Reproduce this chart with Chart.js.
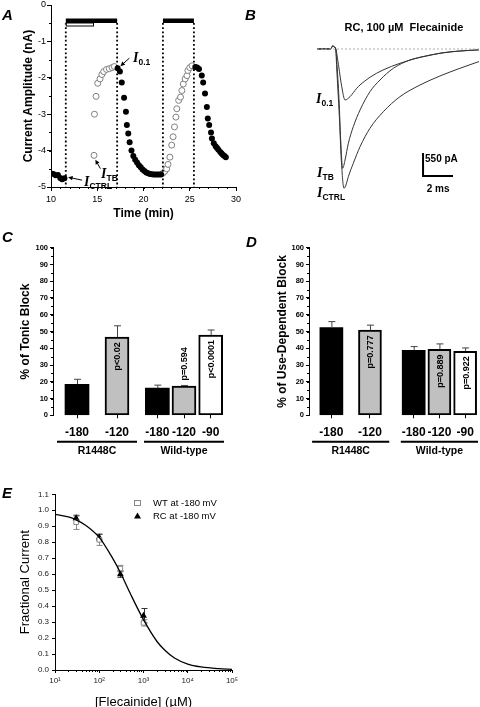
<!DOCTYPE html>
<html>
<head>
<meta charset="utf-8">
<title>Flecainide block of R1448C</title>
<script src="https://cdn.jsdelivr.net/npm/chart.js@4.4.1/dist/chart.umd.min.js"></script>
<style>
  body { margin: 0; background: #fff; }
  #fig { position: relative; width: 480px; height: 707px; overflow: hidden; font-family: "Liberation Sans", Arial, sans-serif; color: #000; }
  #fig canvas { position: absolute; }
  .t { position: absolute; white-space: nowrap; line-height: 1; }
  .panel { font-size: 15px; font-weight: bold; font-style: italic; }
  .cur { font: italic bold 14px "Liberation Serif", "Times New Roman", serif; }
  .cur sub { font: bold 8.5px "Liberation Sans", Arial, sans-serif; vertical-align: -3px; line-height: 1; }
  .ttl { font-size: 11px; font-weight: bold; transform: translateX(-50%); }
</style>
</head>
<body>
<div id="fig">
  <canvas id="chartA" width="250" height="225" style="left:0;top:0"></canvas>
  <canvas id="chartB" width="180" height="200" style="left:300px;top:0"></canvas>
  <canvas id="chartC" width="240" height="235" style="left:0;top:225px"></canvas>
  <canvas id="chartD" width="240" height="235" style="left:240px;top:225px"></canvas>
  <canvas id="chartE" width="260" height="240" style="left:0;top:470px"></canvas>

  <div class="t panel" style="left:2px;top:7px">A</div>
  <div class="t panel" style="left:245px;top:7px">B</div>
  <div class="t panel" style="left:2px;top:229px">C</div>
  <div class="t panel" style="left:246px;top:234px">D</div>
  <div class="t panel" style="left:2px;top:485px">E</div>

  <div class="t cur" style="left:133px;top:50px">I<sub>0.1</sub></div>
  <div class="t cur" style="left:101px;top:166px">I<sub>TB</sub></div>
  <div class="t cur" style="left:84px;top:174px">I<sub>CTRL</sub></div>

  <div class="t ttl" style="left:404px;top:22px">RC, 100 µM&nbsp; Flecainide</div>
  <div class="t cur" style="left:316px;top:91px">I<sub>0.1</sub></div>
  <div class="t cur" style="left:317px;top:165px">I<sub>TB</sub></div>
  <div class="t cur" style="left:317px;top:185px">I<sub>CTRL</sub></div>
</div>

<script>
// panel A: peak current during the protocol
const closedTime = [10.0, 10.25, 10.5, 10.75, 11.0, 11.2, 11.45,
  17.2, 17.45, 17.65, 17.9, 18.1, 18.2, 18.35, 18.5, 18.7, 18.9, 19.1, 19.3, 19.5, 19.7, 19.9,
  20.1, 20.3, 20.5, 20.7, 20.9, 21.1, 21.3, 21.5, 21.7, 21.9,
  25.6, 25.8, 26.0, 26.3, 26.45, 26.65, 26.85, 26.95, 27.1, 27.3, 27.4, 27.6, 27.8, 27.95,
  28.1, 28.3, 28.45, 28.6, 28.75, 28.9];
const closedAmp = [-4.63, -4.64, -4.68, -4.67, -4.75, -4.79, -4.76,
  -1.74, -1.83, -2.13, -2.55, -2.93, -3.3, -3.53, -3.77, -4.0, -4.15, -4.25, -4.33, -4.4, -4.46, -4.52,
  -4.56, -4.6, -4.62, -4.64, -4.65, -4.66, -4.66, -4.66, -4.66, -4.66,
  -1.7, -1.72, -1.76, -1.94, -2.13, -2.43, -2.8, -3.12, -3.3, -3.5, -3.67, -3.8, -3.88, -3.93,
  -3.98, -4.04, -4.08, -4.12, -4.15, -4.18];
const openTime = [14.65, 14.7, 14.87, 15.05, 15.3, 15.5, 15.7, 16.0, 16.3, 16.6, 16.85,
  22.1, 22.3, 22.5, 22.65, 22.85, 23.05, 23.2, 23.35, 23.5, 23.6, 23.8, 24.0, 24.15, 24.3,
  24.5, 24.7, 24.8, 25.0, 25.25];
const openAmp = [-4.13, -3.0, -2.51, -2.15, -2.03, -1.91, -1.83, -1.77, -1.75, -1.72, -1.69,
  -4.62, -4.57, -4.5, -4.38, -4.18, -3.85, -3.62, -3.35, -3.08, -2.85, -2.62, -2.53, -2.35, -2.17,
  -2.03, -1.94, -1.8, -1.72, -1.67];
const drugStart = [11.6, 22.1];
const drugEnd = [17.15, 25.45];
const restStart = [11.6];
const restEnd = [14.65];

// panel B: current traces (ms, pA)
const tTrace01 = [0, 0.5, 0.9, 1.05, 1.15, 1.27, 1.45, 1.65, 1.87, 2.2, 2.65, 2.87, 3.53, 4.4, 5.53, 6.87, 8.2, 9.53, 10.8];
const iTrace01 = [0, 5, 0, 72, 50, -24, -423, -901, -1219, -1140, -939, -860, -676, -502, -342, -198, -103, -48, -20];
const tTraceTB = [0, 0.5, 0.9, 1.05, 1.15, 1.25, 1.31, 1.47, 1.58, 1.71, 1.87, 2.09, 2.42, 2.87, 3.53, 4.2, 5.09, 6.2, 7.31, 8.42, 9.53, 10.8];
const iTraceTB = [0, 5, 0, 72, 50, 0, -263, -1219, -2175, -2851, -2653, -2254, -1857, -1458, -1021, -741, -461, -263, -167, -88, -48, -20];
const tTraceCtrl = [0, 0.5, 0.9, 1.05, 1.15, 1.25, 1.31, 1.49, 1.62, 1.8, 1.93, 2.09, 2.42, 2.87, 3.53, 4.42, 5.53, 6.87, 8.2, 9.53, 10.8];
const iTraceCtrl = [0, 5, 0, 72, 50, 0, -423, -1618, -2653, -3329, -3250, -3052, -2732, -2335, -1895, -1499, -1140, -860, -645, -461, -300];
const scaleMs = 2;
const scalePa = 550;

// panels C and D
const voltages = ['-180', '-120', '-180', '-120', '-90'];
const constructs = ['R1448C', 'R1448C', 'Wild-type', 'Wild-type', 'Wild-type'];
const tonicBlock = [18.5, 46.6, 16.2, 17.4, 47.9];
const tonicErr = [3.0, 6.8, 1.8, 0.4, 3.0];
const tonicP = ['', 'p<0.02', '', 'p=0.594', 'p<0.0001'];
const useBlock = [52.3, 50.8, 38.8, 39.3, 38.2];
const useErr = [3.6, 3.0, 2.2, 3.3, 2.0];
const useP = ['', 'p=0.777', '', 'p=0.889', 'p=0.922'];

// panel E
const flecConc = [30, 100, 300, 1000];
const wtFrac = [0.925, 0.815, 0.635, 0.295];
const wtErr = [0.045, 0.035, 0.02, 0.02];
const rcFrac = [0.95, 0.83, 0.60, 0.34];
const rcErr = [0.015, 0.02, 0.02, 0.045];
const fitConc = [10, 20, 30, 50, 100, 200, 300, 500, 1000, 2000, 3000, 5000, 10000, 20000, 50000, 100000];
const fitFrac = [0.975, 0.958, 0.94, 0.905, 0.83, 0.70, 0.61, 0.48, 0.315, 0.18, 0.125, 0.075, 0.037, 0.019, 0.008, 0.004];
const decades = [10, 100, 1000, 10000, 100000];
const decadeLabels = ['10¹', '10²', '10³', '10⁴', '10⁵'];

const FONT = "'Liberation Sans', Arial, sans-serif";
Chart.defaults.font.family = FONT;
Chart.defaults.color = '#000';
Chart.defaults.animation = false;
Chart.defaults.events = [];
Chart.defaults.responsive = false;
Chart.defaults.plugins.legend.display = false;
Chart.defaults.plugins.tooltip.enabled = false;

const pts = (xs, ys) => xs.map((x, i) => ({x: x, y: ys[i]}));

// give every axis a fixed thickness so the plot boxes land where they should
function fixed(size) {
    return function (s) {
        if (s.isHorizontal()) s.height = size; else s.width = size;
        s.paddingTop = 0; s.paddingBottom = 0; s.paddingLeft = 0; s.paddingRight = 0;
    };
}

const minorTicks = {
    id: 'minorTicks',
    afterDraw(chart, args, opts) {
        const ctx = chart.ctx;
        ctx.save();
        ctx.strokeStyle = '#000';
        ctx.lineWidth = 1;
        ctx.beginPath();
        (opts.list || []).forEach(m => {
            const s = chart.scales[m.axis];
            const vals = [];
            if (m.log) {
                for (let d = s.min; d < s.max; d *= 10)
                    for (let k = 2; k < 10; k++) vals.push(d * k);
            } else {
                for (let v = s.min; v <= s.max + 1e-9; v += m.step) vals.push(v);
            }
            vals.forEach(v => {
                const p = Math.round(s.getPixelForValue(v)) + 0.5;
                if (s.isHorizontal()) { ctx.moveTo(p, s.top); ctx.lineTo(p, s.top + m.len); }
                else { ctx.moveTo(s.right, p); ctx.lineTo(s.right - m.len, p); }
            });
        });
        ctx.stroke();
        ctx.restore();
    }
};

function arrow(ctx, x0, y0, x1, y1) {
    const a = Math.atan2(y1 - y0, x1 - x0);
    ctx.beginPath();
    ctx.moveTo(x0, y0);
    ctx.lineTo(x1 - 3 * Math.cos(a), y1 - 3 * Math.sin(a));
    ctx.stroke();
    ctx.beginPath();
    ctx.moveTo(x1, y1);
    ctx.lineTo(x1 - 5 * Math.cos(a - 0.45), y1 - 5 * Math.sin(a - 0.45));
    ctx.lineTo(x1 - 5 * Math.cos(a + 0.45), y1 - 5 * Math.sin(a + 0.45));
    ctx.closePath();
    ctx.fill();
}

// ---------- A ----------
const protocolBars = {
    id: 'protocolBars',
    afterDatasetsDraw(chart) {
        const {ctx, chartArea} = chart;
        const x = chart.scales.x, y = chart.scales.y;
        ctx.save();
        drugStart.forEach((t0, i) => {
            const x0 = x.getPixelForValue(t0), x1 = x.getPixelForValue(drugEnd[i]);
            ctx.fillStyle = '#000';
            ctx.fillRect(x0, 18.5, x1 - x0, 4.5);
            ctx.strokeStyle = '#000';
            ctx.lineWidth = 1.8;
            ctx.setLineDash([1.8, 2.4]);
            ctx.beginPath();
            [x0, x1].forEach(p => { ctx.moveTo(p, 23); ctx.lineTo(p, chartArea.bottom); });
            ctx.stroke();
            ctx.setLineDash([]);
        });
        restStart.forEach((t0, i) => {
            const x0 = x.getPixelForValue(t0), x1 = x.getPixelForValue(restEnd[i]);
            ctx.fillStyle = '#fff';
            ctx.fillRect(x0, 23, x1 - x0, 3);
            ctx.lineWidth = 1;
            ctx.strokeStyle = '#000';
            ctx.strokeRect(x0 + 0.5, 23, x1 - x0 - 1, 3);
        });
        // label arrows
        ctx.fillStyle = '#000';
        ctx.strokeStyle = '#000';
        ctx.lineWidth = 1;
        let px = x.getPixelForValue(17.5), py = y.getPixelForValue(-1.68);
        arrow(ctx, px + 9, py - 8, px, py);
        px = x.getPixelForValue(14.8); py = y.getPixelForValue(-4.25);
        arrow(ctx, px + 5, py + 9, px, py);
        px = x.getPixelForValue(11.85); py = y.getPixelForValue(-4.73);
        arrow(ctx, px + 14, py + 3, px, py);
        ctx.restore();
    }
};

new Chart(document.getElementById('chartA'), {
    type: 'scatter',
    data: {
        datasets: [
            {data: pts(closedTime, closedAmp), pointRadius: 3, borderWidth: 0, backgroundColor: '#000'},
            {data: pts(openTime, openAmp), pointRadius: 3, borderWidth: 1, backgroundColor: '#fff', borderColor: '#808080'}
        ]
    },
    options: {
        layout: {padding: {left: 17, top: 4, right: 14, bottom: 0}},
        scales: {
            x: {
                type: 'linear', min: 10, max: 30, afterFit: fixed(38),
                ticks: {stepSize: 5, padding: 3, font: {size: 9}},
                grid: {drawOnChartArea: false, color: '#000', tickLength: 4},
                border: {color: '#000'},
                title: {display: true, text: 'Time (min)', font: {size: 12, weight: 'bold'}, padding: {top: 0, bottom: 4}}
            },
            y: {
                min: -5, max: 0, afterFit: fixed(34),
                ticks: {stepSize: 1, padding: 1, font: {size: 9}},
                grid: {drawOnChartArea: false, color: '#000', tickLength: 4},
                border: {color: '#000'},
                title: {display: true, text: 'Current Amplitude (nA)', font: {size: 12, weight: 'bold'}, padding: {top: 4, bottom: 0}}
            }
        },
        plugins: {minorTicks: {list: [{axis: 'x', step: 1, len: 2}, {axis: 'y', step: 0.5, len: 2}]}}
    },
    plugins: [protocolBars, minorTicks]
});

// ---------- B ----------
const scaleBar = {
    id: 'scaleBar',
    afterDatasetsDraw(chart) {
        const {ctx} = chart;
        const x = chart.scales.x, y = chart.scales.y;
        const x0 = x.getPixelForValue(7.07), x1 = x.getPixelForValue(7.07 + scaleMs);
        const yb = y.getPixelForValue(-3035), yt = y.getPixelForValue(-3035 + scalePa);
        ctx.save();
        ctx.strokeStyle = '#000';
        ctx.lineWidth = 2;
        ctx.beginPath();
        ctx.moveTo(x0, yt); ctx.lineTo(x0, yb); ctx.lineTo(x1, yb);
        ctx.stroke();
        ctx.fillStyle = '#000';
        ctx.font = 'bold 10px ' + FONT;
        ctx.textBaseline = 'middle';
        ctx.fillText(scalePa + ' pA', x0 + 2, (yt + yb) / 2 - 5);
        ctx.textAlign = 'center';
        ctx.fillText(scaleMs + ' ms', (x0 + x1) / 2, yb + 13);
        ctx.restore();
    }
};

const traceStyle = {showLine: true, borderColor: '#333', borderWidth: 1, pointRadius: 0, cubicInterpolationMode: 'monotone'};
new Chart(document.getElementById('chartB'), {
    type: 'scatter',
    data: {
        datasets: [
            {showLine: true, data: [{x: tTrace01[0], y: 0}, {x: tTrace01[tTrace01.length - 1], y: 0}],
             borderColor: '#b0b0b0', borderDash: [2, 2], borderWidth: 1, pointRadius: 0},
            Object.assign({data: pts(tTraceCtrl, iTraceCtrl)}, traceStyle),
            Object.assign({data: pts(tTraceTB, iTraceTB)}, traceStyle),
            Object.assign({data: pts(tTrace01, iTrace01)}, traceStyle)
        ]
    },
    options: {
        layout: {padding: 0},
        scales: {
            x: {type: 'linear', display: false, min: -1.133, max: 10.867},
            y: {display: false, min: -3609, max: 1171}
        }
    },
    plugins: [scaleBar]
});

// ---------- C and D ----------
function barSlots(groups, gap) {
    const names = [...new Set(groups)];
    return groups.map((g, i) => {
        const n = groups.filter(v => v === g).length;
        const k = groups.slice(0, i).filter(v => v === g).length;
        return names.indexOf(g) * (1 + gap) + (k + 0.5) / n;
    });
}

const barFill = ['#000', '#c0c0c0', '#000', '#c0c0c0', '#fff'];
const barEdge = [0, 2, 0, 2, 2];

const barExtras = {
    id: 'barExtras',
    afterDatasetsDraw(chart, args, opts) {
        const {ctx, chartArea} = chart;
        const x = chart.scales.x, y = chart.scales.y;
        const ds = chart.data.datasets[0];
        ctx.save();
        chart.getDatasetMeta(0).data.forEach((bar, i) => {
            const top = bar.y;
            const errTop = y.getPixelForValue(ds.data[i].y + ds.errors[i]);
            ctx.strokeStyle = '#444';
            ctx.lineWidth = 1;
            ctx.beginPath();
            ctx.moveTo(bar.x + 0.5, top); ctx.lineTo(bar.x + 0.5, errTop);
            ctx.moveTo(bar.x - 3, errTop); ctx.lineTo(bar.x + 4, errTop);
            ctx.stroke();
            const p = ds.pTexts[i];
            if (p) {
                ctx.save();
                ctx.font = 'bold 9px ' + FONT;
                ctx.fillStyle = '#000';
                ctx.textBaseline = 'middle';
                const w = ctx.measureText(p).width;
                if (chartArea.bottom - top > w + 10) {
                    ctx.translate(bar.x + 1, top + 5);
                    ctx.rotate(-Math.PI / 2);
                    ctx.textAlign = 'right';
                } else {
                    ctx.translate(bar.x + 1, errTop - 5);
                    ctx.rotate(-Math.PI / 2);
                    ctx.textAlign = 'left';
                }
                ctx.fillText(p, 0, 0);
                ctx.restore();
            }
        });
        const names = [...new Set(constructs)];
        ctx.fillStyle = '#000';
        ctx.strokeStyle = '#000';
        ctx.lineWidth = 2;
        ctx.font = 'bold 10.5px ' + FONT;
        ctx.textAlign = 'center';
        ctx.textBaseline = 'middle';
        names.forEach((n, gi) => {
            const x0 = x.getPixelForValue(gi * (1 + opts.gap));
            const x1 = x.getPixelForValue(gi * (1 + opts.gap) + 1);
            const ly = chartArea.bottom + 26.5;
            ctx.beginPath();
            ctx.moveTo(x0, ly); ctx.lineTo(x1, ly);
            ctx.stroke();
            ctx.fillText(n, (x0 + x1) / 2, chartArea.bottom + 35.5);
        });
        ctx.restore();
    }
};

function blockChart(id, values, errors, pTexts, title, g) {
    const xs = barSlots(constructs, g.gap);
    return new Chart(document.getElementById(id), {
        type: 'bar',
        data: {
            datasets: [{
                data: xs.map((v, i) => ({x: v, y: values[i]})),
                backgroundColor: barFill, borderColor: '#000', borderWidth: barEdge,
                borderSkipped: false, barThickness: g.bar,
                errors: errors, pTexts: pTexts
            }]
        },
        options: {
            layout: {padding: {left: g.padL, right: g.padR, top: 22.7, bottom: 0}},
            scales: {
                x: {
                    type: 'linear', min: g.xmin, max: g.xmax, offset: false, afterFit: fixed(44.7),
                    afterBuildTicks: s => { s.ticks = xs.map(v => ({value: v})); },
                    ticks: {autoSkip: false, maxRotation: 0, padding: 7, font: {size: 12, weight: 'bold'},
                            callback: (v, i) => voltages[i]},
                    grid: {offset: false, drawOnChartArea: false, color: '#000', tickLength: 3},
                    border: {display: false}
                },
                y: {
                    min: 0, max: 100, afterFit: fixed(g.yW),
                    ticks: {stepSize: 10, padding: 2, font: {size: 7.5, weight: 'bold'}},
                    grid: {drawOnChartArea: false, color: '#000', tickLength: 3},
                    border: {color: '#000'},
                    title: {display: true, text: title, font: {size: 12, weight: 'bold'}, padding: {top: 4, bottom: 0}}
                }
            },
            plugins: {
                barExtras: {gap: g.gap},
                minorTicks: {list: [{axis: 'y', step: 5, len: 2}]}
            }
        },
        plugins: [barExtras, minorTicks]
    });
}

blockChart('chartC', tonicBlock, tonicErr, tonicP, '% of Tonic Block',
    {gap: 0.0875, xmin: -0.05, xmax: 2.1, bar: 24, padL: 14, padR: 15, yW: 39});
blockChart('chartD', useBlock, useErr, useP, '% of Use-Dependent Block',
    {gap: 0.15, xmin: -0.04, xmax: 2.15, bar: 23, padL: 31, padR: 2, yW: 38});

// ---------- E ----------
const doseExtras = {
    id: 'doseExtras',
    beforeDatasetsDraw(chart) {
        const {ctx} = chart;
        const x = chart.scales.x, y = chart.scales.y;
        ctx.save();
        ctx.lineWidth = 1;
        chart.data.datasets.forEach(ds => {
            if (!ds.errors) return;
            ctx.strokeStyle = ds.errColor;
            ctx.beginPath();
            ds.data.forEach((p, i) => {
                const px = Math.round(x.getPixelForValue(p.x)) + 0.5;
                const y0 = y.getPixelForValue(p.y - ds.errors[i]);
                const y1 = y.getPixelForValue(p.y + ds.errors[i]);
                ctx.moveTo(px, y0); ctx.lineTo(px, y1);
                ctx.moveTo(px - 3, y0); ctx.lineTo(px + 3, y0);
                ctx.moveTo(px - 3, y1); ctx.lineTo(px + 3, y1);
            });
            ctx.stroke();
        });
        ctx.restore();
    },
    afterDatasetsDraw(chart) {
        const {ctx} = chart;
        ctx.save();
        ctx.font = '9.5px ' + FONT;
        ctx.textBaseline = 'middle';
        ctx.fillStyle = '#000';
        ctx.fillText('WT at -180 mV', 153, 33);
        ctx.fillText('RC at -180 mV', 153, 46);
        ctx.strokeStyle = '#888';
        ctx.strokeRect(134.5, 30.5, 6, 5);
        ctx.beginPath();
        ctx.moveTo(137.5, 42.5); ctx.lineTo(141, 48.5); ctx.lineTo(134, 48.5);
        ctx.closePath();
        ctx.fill();
        ctx.restore();
    }
};

new Chart(document.getElementById('chartE'), {
    type: 'scatter',
    data: {
        datasets: [
            {type: 'line', data: pts(fitConc, fitFrac), borderColor: '#000', borderWidth: 1.3,
             pointRadius: 0, cubicInterpolationMode: 'monotone'},
            {data: pts(flecConc, wtFrac), pointStyle: 'rect', pointRadius: 3.2, borderWidth: 1,
             backgroundColor: '#fff', borderColor: '#888', errors: wtErr, errColor: '#888'},
            {data: pts(flecConc, rcFrac), pointStyle: 'triangle', pointRadius: 4, borderWidth: 0,
             backgroundColor: '#000', errors: rcErr, errColor: '#333'}
        ]
    },
    options: {
        layout: {padding: {left: 14, top: 24.3, right: 28, bottom: 0}},
        scales: {
            x: {
                type: 'logarithmic', min: 10, max: 100000, afterFit: fixed(40),
                afterBuildTicks: s => { s.ticks = decades.map(v => ({value: v})); },
                ticks: {autoSkip: false, maxRotation: 0, padding: 3, font: {size: 8}, color: '#222',
                        callback: (v, i) => decadeLabels[i]},
                grid: {drawOnChartArea: false, color: '#000', tickLength: 3},
                border: {color: '#000'},
                title: {display: true, text: '[Flecainide] (µM)', font: {size: 13}, padding: {top: 0, bottom: 0}}
            },
            y: {
                min: 0, max: 1.1, afterFit: fixed(41),
                ticks: {stepSize: 0.1, padding: 3, font: {size: 8}, color: '#222', callback: v => v.toFixed(1)},
                grid: {drawOnChartArea: false, color: '#000', tickLength: 3},
                border: {color: '#000'},
                title: {display: true, text: 'Fractional Current', font: {size: 13}, padding: {top: 4, bottom: 0}}
            }
        },
        plugins: {minorTicks: {list: [{axis: 'x', log: true, len: 2}]}}
    },
    plugins: [doseExtras, minorTicks]
});
</script>
</body>
</html>
